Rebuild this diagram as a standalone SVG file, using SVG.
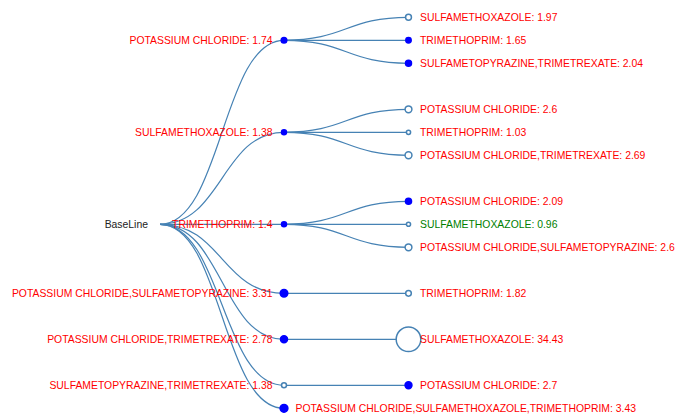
<svg xmlns="http://www.w3.org/2000/svg" width="676" height="414" viewBox="0 0 676 414">
<style>
  .link { fill: none; stroke: #4682b4; stroke-width: 1.2; }
  .open { fill: #fff; stroke: #4682b4; stroke-width: 1.5; }
  .full { fill: #0000ff; stroke: #0000ff; stroke-width: 1.5; }
  text { font-family: "Liberation Sans", Arial, sans-serif; font-size: 10.4px; }
  .red { fill: #ff0000; }
  .green { fill: #008000; }
  .root { fill: #222; }
  .end { text-anchor: end; }
</style>
<rect width="676" height="414" fill="#fff"/>
<g id="connectors">
  <path class="link" d="M160,224.3C222,224.3 222,40.3 284,40.3"/>
  <path class="link" d="M160,224.3C222,224.3 222,132.3 284,132.3"/>
  <path class="link" d="M160,224.3C222,224.3 222,224.3 284,224.3"/>
  <path class="link" d="M160,224.3C222,224.3 222,293.3 284,293.3"/>
  <path class="link" d="M160,224.3C222,224.3 222,339.3 284,339.3"/>
  <path class="link" d="M160,224.3C222,224.3 222,385.3 284,385.3"/>
  <path class="link" d="M160,224.3C222,224.3 222,408.3 284,408.3"/>
  <path class="link" d="M284,40.3C346.25,40.3 346.25,17.3 408.5,17.3"/>
  <path class="link" d="M284,40.3C346.25,40.3 346.25,40.3 408.5,40.3"/>
  <path class="link" d="M284,40.3C346.25,40.3 346.25,63.3 408.5,63.3"/>
  <path class="link" d="M284,132.3C346.25,132.3 346.25,109.3 408.5,109.3"/>
  <path class="link" d="M284,132.3C346.25,132.3 346.25,132.3 408.5,132.3"/>
  <path class="link" d="M284,132.3C346.25,132.3 346.25,155.3 408.5,155.3"/>
  <path class="link" d="M284,224.3C346.25,224.3 346.25,201.3 408.5,201.3"/>
  <path class="link" d="M284,224.3C346.25,224.3 346.25,224.3 408.5,224.3"/>
  <path class="link" d="M284,224.3C346.25,224.3 346.25,247.3 408.5,247.3"/>
  <path class="link" d="M284,293.3L408.5,293.3"/>
  <path class="link" d="M284,339.3L408.5,339.3"/>
  <path class="link" d="M284,385.3L408.5,385.3"/>
</g>
<g id="root">
  <text class="root end" x="148" y="227.9">BaseLine</text>
</g>
<g id="n1">
  <circle class="full" cx="284" cy="40.3" r="2.8"/>
  <text class="red end" x="272.5" y="43.9">POTASSIUM CHLORIDE: 1.74</text>
</g>
<g id="n1a">
  <circle class="open" cx="408.5" cy="17.3" r="2.95"/>
  <text class="red" x="420" y="20.9">SULFAMETHOXAZOLE: 1.97</text>
</g>
<g id="n1b">
  <circle class="full" cx="408.5" cy="40.3" r="2.7"/>
  <text class="red" x="420" y="43.9">TRIMETHOPRIM: 1.65</text>
</g>
<g id="n1c">
  <circle class="full" cx="408.5" cy="63.3" r="3.0"/>
  <text class="red" x="420" y="66.9">SULFAMETOPYRAZINE,TRIMETREXATE: 2.04</text>
</g>
<g id="n2">
  <circle class="full" cx="284" cy="132.3" r="2.47"/>
  <text class="red end" x="272.5" y="135.9">SULFAMETHOXAZOLE: 1.38</text>
</g>
<g id="n2a">
  <circle class="open" cx="408.5" cy="109.3" r="3.4"/>
  <text class="red" x="420" y="112.9">POTASSIUM CHLORIDE: 2.6</text>
</g>
<g id="n2b">
  <circle class="open" cx="408.5" cy="132.3" r="2.1"/>
  <text class="red" x="420" y="135.9">TRIMETHOPRIM: 1.03</text>
</g>
<g id="n2c">
  <circle class="open" cx="408.5" cy="155.3" r="3.44"/>
  <text class="red" x="420" y="158.9">POTASSIUM CHLORIDE,TRIMETREXATE: 2.69</text>
</g>
<g id="n3">
  <circle class="full" cx="284" cy="224.3" r="2.5"/>
  <text class="red end" x="272.5" y="227.9">TRIMETHOPRIM: 1.4</text>
</g>
<g id="n3a">
  <circle class="full" cx="408.5" cy="201.3" r="3.04"/>
  <text class="red" x="420" y="204.9">POTASSIUM CHLORIDE: 2.09</text>
</g>
<g id="n3b">
  <circle class="open" cx="408.5" cy="224.3" r="2.06"/>
  <text class="green" x="420" y="227.9">SULFAMETHOXAZOLE: 0.96</text>
</g>
<g id="n3c">
  <circle class="open" cx="408.5" cy="247.3" r="3.4"/>
  <text class="red" x="420" y="250.9">POTASSIUM CHLORIDE,SULFAMETOPYRAZINE: 2.6</text>
</g>
<g id="n4">
  <circle class="full" cx="284" cy="293.3" r="3.8"/>
  <text class="red end" x="272.5" y="296.9">POTASSIUM CHLORIDE,SULFAMETOPYRAZINE: 3.31</text>
</g>
<g id="n4a">
  <circle class="open" cx="408.5" cy="293.3" r="2.83"/>
  <text class="red" x="420" y="296.9">TRIMETHOPRIM: 1.82</text>
</g>
<g id="n5">
  <circle class="full" cx="284" cy="339.3" r="3.5"/>
  <text class="red end" x="272.5" y="342.9">POTASSIUM CHLORIDE,TRIMETREXATE: 2.78</text>
</g>
<g id="n5a">
  <circle class="open" cx="408.5" cy="339.3" r="12.3"/>
  <text class="red" x="420" y="342.9">SULFAMETHOXAZOLE: 34.43</text>
</g>
<g id="n6">
  <circle class="open" cx="284" cy="385.3" r="2.47"/>
  <text class="red end" x="272.5" y="388.9">SULFAMETOPYRAZINE,TRIMETREXATE: 1.38</text>
</g>
<g id="n6a">
  <circle class="full" cx="408.5" cy="385.3" r="3.45"/>
  <text class="red" x="420" y="388.9">POTASSIUM CHLORIDE: 2.7</text>
</g>
<g id="n7">
  <circle class="full" cx="284" cy="408.3" r="3.9"/>
  <text class="red" x="295.5" y="411.9">POTASSIUM CHLORIDE,SULFAMETHOXAZOLE,TRIMETHOPRIM: 3.43</text>
</g>
</svg>
